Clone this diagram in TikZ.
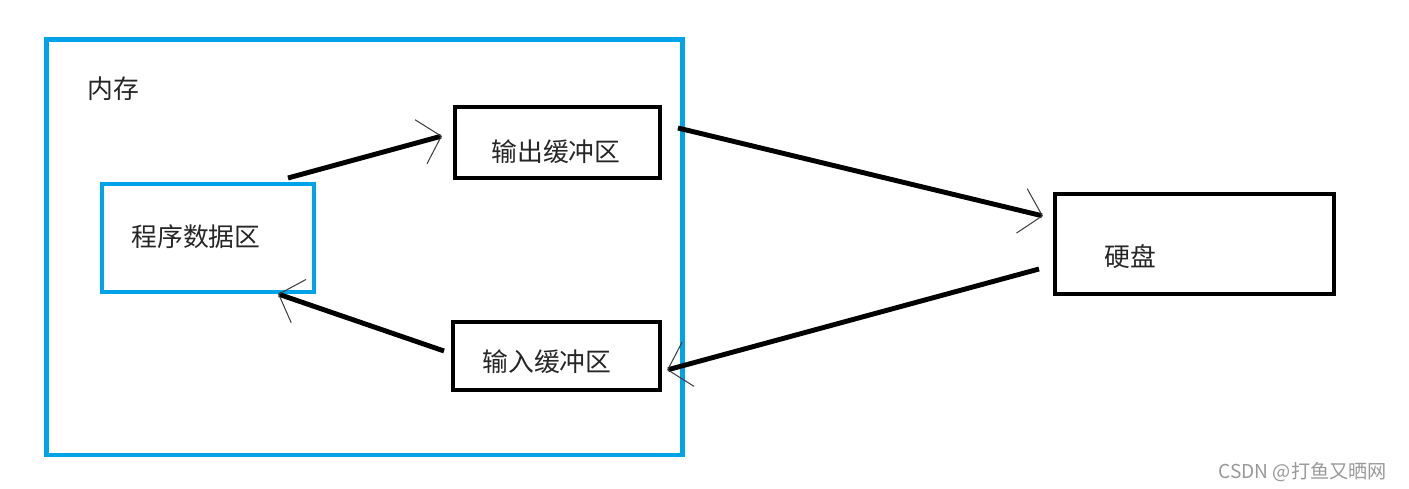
\documentclass[tikz,border=0pt]{standalone}
\usepackage{fontspec}
\setmainfont{Noto Sans CJK SC}
\usetikzlibrary{arrows.meta}
\definecolor{memblue}{HTML}{00A2E8}

\begin{document}
\begin{tikzpicture}[x=0.02cm, y=-0.02cm,
                    box/.style={draw, line width=2.3pt, outer sep=0pt, inner sep=0pt},
                    blue box/.style={box, draw=memblue, line width=2.8pt},
                    label text/.style={font=\fontsize{14.7}{17}\selectfont, text=black!85},
                    conn/.style={line width=2.8pt,
                      -{Straight Barb[line width=0.6pt, length=12pt, width=26pt, color=black!75]}}]

  \useasboundingbox (0,0) rectangle (1409,489);

  \node[blue box, minimum width=12.72cm, minimum height=8.31cm] (mem) at (364.5,247.25) {};
  \node[label text] (mem label) at (113,89) {内存};

  \node[blue box, minimum width=4.24cm, minimum height=2.16cm] (prog) at (208,238) {};
  \node[label text] (prog label) at (196,237) {程序数据区};

  \node[box, minimum width=4.1cm, minimum height=1.42cm] (outbuf) at (557.5,142.5) {};
  \node[label text] (outbuf label) at (556,152) {输出缓冲区};

  \node[box, minimum width=4.14cm, minimum height=1.36cm] (inbuf) at (556.5,356) {};
  \node[label text] (inbuf label) at (547,362) {输入缓冲区};

  \node[box, minimum width=5.58cm, minimum height=2cm] (disk) at (1194.5,244) {};
  \node[label text] (disk label) at (1130,257) {硬盘};

  \draw[conn] ([shift={(-26,-6)}]prog.north east) -- ([shift={(-13,-6.5)}]outbuf.west);
  \draw[conn] ([shift={(18,-14.5)}]outbuf.east) -- ([shift={(-12,-28)}]disk.west);
  \draw[conn] ([shift={(-16,25)}]disk.west) -- ([shift={(7,14)}]inbuf.east);
  \draw[conn] ([shift={(-9,-5)}]inbuf.west) -- ([shift={(-36,2)}]prog.south east);

  \node[font=\fontsize{10.9}{12}\selectfont, text=black!40, anchor=east] (mark) at (1393,472) {CSDN @打鱼又晒网};
\end{tikzpicture}
\end{document}
